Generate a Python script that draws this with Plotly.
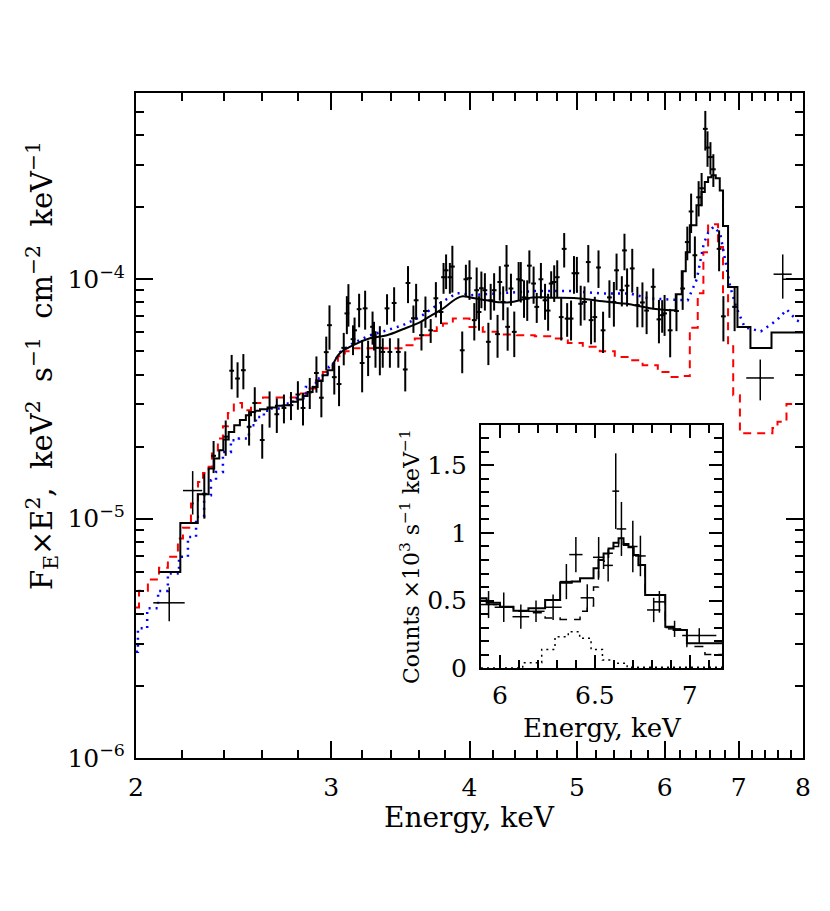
import plotly.graph_objects as go

# ---------------- main spectrum: data points ----------------
energy = [2.305, 2.35, 2.41, 2.44, 2.47, 2.50, 2.53, 2.56, 2.60, 2.64, 2.68, 2.72, 2.76, 2.80, 2.83,
          2.87, 2.91, 2.94, 2.97, 2.99, 3.02, 3.05, 3.08, 3.10, 3.11, 3.14, 3.15, 3.18, 3.20, 3.22,
          3.24, 3.27, 3.28, 3.29, 3.32, 3.34, 3.37, 3.39, 3.42, 3.45, 3.50, 3.52, 3.56, 3.58, 3.62,
          3.65, 3.69, 3.73, 3.77, 3.79, 3.81, 3.84, 3.86, 3.94, 3.97, 4.00, 4.04, 4.06, 4.08, 4.10,
          4.13, 4.16, 4.18, 4.21, 4.24, 4.26, 4.29, 4.32, 4.33, 4.36, 4.39, 4.43, 4.45, 4.48, 4.51,
          4.53, 4.57, 4.60, 4.64, 4.68, 4.71, 4.74, 4.77, 4.80, 4.84, 4.87, 4.90, 4.94, 4.97, 5.00,
          5.04, 5.08, 5.12, 5.15, 5.19, 5.23, 5.28, 5.35, 5.40, 5.43, 5.49, 5.52, 5.55, 5.61, 5.67,
          5.73, 5.78, 5.86, 5.93, 5.97, 6.00, 6.07, 6.15, 6.23, 6.29, 6.34, 6.39, 6.44, 6.48, 6.53,
          6.56, 6.60, 6.64, 6.72, 6.78, 6.94]
flux = [1.27e-5, 1.83e-5, 2.2e-5, 4.15e-5, 3.85e-5, 4.17e-5, 2.42e-5, 3.04e-5, 2.13e-5, 2.9e-5,
        2.73e-5, 2.9e-5, 2.98e-5, 3.3e-5, 2.9e-5, 3.37e-5, 4.06e-5, 3.2e-5, 4.96e-5, 6.43e-5,
        3.9e-5, 3.65e-5, 5.17e-5, 7.2e-5, 7.94e-5, 5.62e-5, 6.12e-5, 7.5e-5, 4.47e-5, 7.56e-5,
        4.74e-5, 6.33e-5, 5.84e-5, 5.17e-5, 5.17e-5, 4.97e-5, 7.56e-5, 4.97e-5, 7.96e-5, 4.97e-5,
        4.2e-5, 9.65e-5, 6.87e-5, 8.17e-5, 5.84e-5, 7.37e-5, 6.12e-5, 8.33e-5, 7.3e-5, 1.02e-4,
        1.09e-4, 1.02e-4, 1.13e-4, 5.05e-5, 1.0e-4, 1.01e-4, 6.75e-5, 9.0e-5, 7.3e-5, 9.17e-5,
        9.0e-5, 5.48e-5, 8.17e-5, 9.0e-5, 5.9e-5, 9.74e-5, 8.04e-5, 1.14e-4, 6.33e-5, 9.15e-5,
        6.03e-5, 1.0e-4, 9.9e-5, 8.4e-5, 8.3e-5, 1.14e-4, 9.6e-5, 7.67e-5, 1.0e-4, 8.17e-5,
        7.4e-5, 9.6e-5, 9.74e-5, 1.02e-4, 6.95e-5, 1.34e-4, 6.85e-5, 6.85e-5, 1.06e-4, 1.06e-4,
        7.9e-5, 8.04e-5, 1.18e-4, 6.75e-5, 6.95e-5, 1.12e-4, 6.12e-5, 8.4e-5, 8.04e-5, 1.09e-4,
        9.0e-5, 1.32e-4, 9.4e-5, 1.11e-4, 7.8e-5, 8.0e-5, 7.4e-5, 9.3e-5, 6.8e-5, 7.08e-5,
        7.2e-5, 6.12e-5, 7.37e-5, 9.15e-5, 1.43e-4, 1.92e-4, 1.26e-4, 2.2e-4, 2.4e-4, 4.25e-4,
        3.55e-4, 3.24e-4, 2.88e-4, 1.34e-4, 7.0e-5, 7.67e-5]
flux_err = [0.27e-5, 0.28e-5, 0.37e-5, 0.68e-5, 0.65e-5, 0.7e-5, 0.4e-5, 0.5e-5, 0.35e-5, 0.5e-5,
            0.45e-5, 0.4e-5, 0.4e-5, 0.45e-5, 0.45e-5, 0.5e-5, 0.7e-5, 0.55e-5, 0.8e-5, 1.35e-5,
            0.6e-5, 0.7e-5, 0.8e-5, 1.3e-5, 1.6e-5, 0.8e-5, 0.8e-5, 1.2e-5, 1.1e-5, 1.4e-5,
            0.8e-5, 1.0e-5, 0.8e-5, 0.9e-5, 1.2e-5, 0.7e-5, 1.1e-5, 0.7e-5, 1.3e-5, 0.7e-5,
            0.8e-5, 1.7e-5, 0.9e-5, 1.4e-5, 0.8e-5, 1.1e-5, 0.7e-5, 1.4e-5, 0.8e-5, 1.5e-5,
            1.8e-5, 1.5e-5, 2.5e-5, 1.0e-5, 1.5e-5, 1.9e-5, 1.2e-5, 2.2e-5, 1.2e-5, 1.6e-5,
            1.6e-5, 1.1e-5, 1.4e-5, 1.6e-5, 1.2e-5, 1.6e-5, 1.3e-5, 2.5e-5, 1.3e-5, 1.4e-5,
            1.3e-5, 1.8e-5, 1.9e-5, 1.5e-5, 1.6e-5, 1.8e-5, 1.7e-5, 1.1e-5, 1.7e-5, 1.4e-5,
            1.3e-5, 1.2e-5, 1.7e-5, 1.8e-5, 1.4e-5, 2.2e-5, 1.1e-5, 1.3e-5, 1.9e-5, 1.8e-5,
            1.5e-5, 1.3e-5, 2.1e-5, 1.4e-5, 1.5e-5, 2.0e-5, 1.2e-5, 1.5e-5, 1.7e-5, 1.9e-5,
            1.3e-5, 2.3e-5, 1.7e-5, 2.3e-5, 1.5e-5, 1.7e-5, 1.5e-5, 1.8e-5, 1.4e-5, 1.1e-5,
            1.4e-5, 1.4e-5, 1.3e-5, 1.7e-5, 2.3e-5, 3.6e-5, 2.5e-5, 3.7e-5, 3.8e-5, 8.0e-5,
            6.0e-5, 5.0e-5, 4.5e-5, 2.6e-5, 1.5e-5, 1.6e-5]

# wide-bin points
wide_energy = [2.143, 2.25, 7.32, 7.67, 8.05]
wide_energy_err = [0.07, 0.045, 0.21, 0.145, 0.38]
wide_flux = [4.45e-6, 1.31e-5, 3.87e-5, 1.05e-4, 1.0e-4]
wide_flux_err = [0.72e-6, 0.27e-5, 0.75e-5, 2.2e-5, 2.0e-5]

# ---------------- main spectrum: models ----------------
# total model (solid black)
black_lo_e = [2.097, 2.193, 2.274, 2.326, 2.353, 2.378, 2.398, 2.425, 2.453, 2.482, 2.513, 2.54,
              2.562, 2.588, 2.629, 2.675, 2.722, 2.76, 2.798, 2.828, 2.857, 2.887, 2.917, 2.948,
              2.978, 3.01]
black_lo_f = [5.99e-6, 9.6e-6, 1.265e-5, 1.62e-5, 1.784e-5, 1.93e-5, 2.14e-5, 2.30e-5, 2.457e-5,
              2.58e-5, 2.705e-5, 2.79e-5, 2.82e-5, 2.865e-5, 2.91e-5, 2.96e-5, 2.98e-5, 3.075e-5,
              3.146e-5, 3.256e-5, 3.38e-5, 3.55e-5, 3.76e-5, 3.97e-5, 4.17e-5, 4.375e-5]
black_mid_e = [3.01, 3.055, 3.139, 3.252, 3.369, 3.482, 3.607, 3.683, 3.737, 3.80, 3.84, 3.896,
               3.945, 4.0, 4.086, 4.145, 4.26, 4.349, 4.441, 4.506, 4.629, 4.756, 5.0, 5.277,
               5.466, 5.581, 5.818, 6.065]
black_mid_f = [4.375e-5, 4.91e-5, 5.30e-5, 5.67e-5, 5.835e-5, 6.18e-5, 6.61e-5, 7.0e-5, 7.28e-5,
               7.64e-5, 7.94e-5, 8.33e-5, 8.49e-5, 8.41e-5, 8.25e-5, 8.17e-5, 8.01e-5, 8.01e-5,
               8.17e-5, 8.33e-5, 8.41e-5, 8.37e-5, 8.33e-5, 8.09e-5, 7.94e-5, 7.86e-5, 7.57e-5,
               7.42e-5]
black_hi_e = [6.065, 6.141, 6.218, 6.27, 6.323, 6.411, 6.478, 6.523, 6.568, 6.614, 6.673, 6.729,
              6.775, 6.846, 6.981, 7.172, 7.493, 8.0]
black_hi_f = [7.42e-5, 8.66e-5, 1.08e-4, 1.296e-4, 1.68e-4, 2.04e-4, 2.315e-4, 2.55e-4, 2.67e-4,
              2.72e-4, 2.64e-4, 2.35e-4, 1.67e-4, 9.29e-5, 6.32e-5, 5.16e-5, 5.99e-5, 5.99e-5]

# red dashed model
red_e = [2.0, 2.0125, 2.050, 2.098, 2.137, 2.182, 2.205, 2.242, 2.275, 2.299, 2.326, 2.342, 2.371,
         2.396, 2.421, 2.451, 2.493, 2.54, 2.604, 2.806, 2.847, 2.907, 2.949, 3.011, 3.043, 3.087,
         3.12, 3.497, 3.57, 3.63, 3.683, 3.737, 3.785, 3.864, 4.0, 4.112, 4.242, 4.413, 4.581,
         4.746, 4.907, 5.062, 5.244, 5.41, 5.581, 5.732, 5.916, 6.065, 6.231, 6.323, 6.428, 6.504,
         6.568, 6.705, 6.775, 6.846, 6.92, 7.017, 7.508, 7.587, 7.73, 8.0]
red_f = [4.25e-6, 5.0e-6, 5.57e-6, 6.23e-6, 6.93e-6, 8.27e-6, 9.15e-6, 1.157e-5, 1.424e-5, 1.55e-5,
         1.646e-5, 1.872e-5, 2.16e-5, 2.43e-5, 2.765e-5, 3.04e-5, 2.84e-5, 3.04e-5, 3.21e-5,
         3.33e-5, 3.50e-5, 3.79e-5, 4.10e-5, 4.45e-5, 4.77e-5, 5.0e-5, 5.15e-5, 5.30e-5, 5.65e-5,
         5.835e-5, 6.08e-5, 6.30e-5, 6.53e-5, 6.85e-5, 6.32e-5, 6.03e-5, 5.875e-5, 5.84e-5,
         5.78e-5, 5.65e-5, 5.42e-5, 5.22e-5, 5.0e-5, 4.74e-5, 4.59e-5, 4.375e-5, 4.10e-5, 3.91e-5,
         3.94e-5, 6.28e-5, 8.74e-5, 1.296e-4, 1.696e-4, 1.364e-4, 8.72e-5, 5.25e-5, 3.28e-5,
         2.275e-5, 2.39e-5, 2.54e-5, 3.01e-5, 3.01e-5]

# blue dotted model
blue_lo_e = [2.0, 2.008, 2.047, 2.094, 2.137, 2.187, 2.228, 2.266, 2.304, 2.337, 2.362, 2.396,
             2.436, 2.477, 2.529, 2.566, 2.609, 2.637, 2.714, 2.771, 2.847, 2.907, 2.949, 2.986,
             3.01]
blue_lo_f = [2.78e-6, 3.48e-6, 4.22e-6, 4.99e-6, 5.90e-6, 6.93e-6, 8.39e-6, 1.018e-5, 1.253e-5,
             1.448e-5, 1.568e-5, 1.90e-5, 2.127e-5, 2.16e-5, 2.457e-5, 2.66e-5, 2.82e-5, 2.885e-5,
             3.03e-5, 3.18e-5, 3.55e-5, 3.85e-5, 4.04e-5, 4.30e-5, 4.4e-5]
blue_hi_e = [3.01, 3.055, 3.139, 3.252, 3.369, 3.482, 3.607, 3.737, 3.84, 3.896, 3.945, 4.0, 4.29,
             4.6, 4.92, 5.277, 5.581, 5.818, 6.065, 6.231, 6.296, 6.415, 6.509, 6.570, 6.646,
             6.736, 6.806, 6.877, 6.964, 7.088, 7.328, 7.576, 7.735, 7.897, 8.0]
blue_hi_f = [4.4e-5, 4.955e-5, 5.40e-5, 5.835e-5, 6.12e-5, 6.43e-5, 6.94e-5, 7.79e-5, 8.41e-5,
             8.74e-5, 8.76e-5, 8.57e-5, 8.76e-5, 8.94e-5, 8.94e-5, 8.72e-5, 8.72e-5, 8.31e-5,
             8.23e-5, 8.17e-5, 8.17e-5, 1.0e-4, 1.41e-4, 1.57e-4, 1.66e-4, 1.55e-4, 1.20e-4,
             9.3e-5, 7.64e-5, 6.3e-5, 6.06e-5, 6.74e-5, 7.47e-5, 6.74e-5, 6.55e-5]

# ---------------- inset: Fe line region ----------------
inset_e = [5.94, 6.02, 6.11, 6.19, 6.28, 6.35, 6.40, 6.46, 6.52, 6.57, 6.61, 6.64, 6.70, 6.74,
           6.81, 6.84, 6.92, 7.05]
inset_e_err = [0.045, 0.048, 0.044, 0.045, 0.045, 0.035, 0.035, 0.035, 0.03, 0.025, 0.018, 0.025,
               0.025, 0.028, 0.035, 0.03, 0.035, 0.09]
inset_c = [0.47, 0.45, 0.38, 0.42, 0.45, 0.64, 0.84, 0.52, 0.82, 0.76, 1.31, 1.03, 0.90, 0.83,
           0.43, 0.49, 0.29, 0.24]
inset_c_err = [0.10, 0.11, 0.09, 0.08, 0.095, 0.13, 0.13, 0.10, 0.15, 0.12, 0.28, 0.20, 0.19,
               0.15, 0.09, 0.08, 0.06, 0.055]

inset_tot_e = [5.9, 5.93, 6.0, 6.071, 6.15, 6.238, 6.317, 6.378, 6.422, 6.493, 6.519, 6.546,
               6.572, 6.598, 6.625, 6.651, 6.677, 6.704, 6.730, 6.765, 6.871, 6.915, 6.985, 7.17]
inset_tot_c = [0.516, 0.484, 0.454, 0.425, 0.442, 0.504, 0.632, 0.640, 0.664, 0.738, 0.800,
               0.849, 0.886, 0.928, 0.961, 0.919, 0.894, 0.837, 0.763, 0.541, 0.306, 0.281,
               0.183, 0.183]
inset_67_e = [5.9, 5.93, 6.0, 6.071, 6.15, 6.238, 6.317, 6.378, 6.422, 6.46, 6.493, 6.519, 6.546,
              6.572, 6.598, 6.625, 6.651, 6.677, 6.704, 6.730, 6.765, 6.871, 6.915, 6.985, 7.08,
              7.17]
inset_67_c = [0.50, 0.47, 0.45, 0.42, 0.41, 0.37, 0.36, 0.36, 0.42, 0.46, 0.60, 0.73, 0.79,
              0.85, 0.90, 0.94, 0.91, 0.89, 0.83, 0.76, 0.54, 0.30, 0.28, 0.16, 0.10, 0.10]
inset_64_e = [5.9, 6.12, 6.22, 6.29, 6.36, 6.42, 6.48, 6.54, 6.6, 6.67, 7.17]
inset_64_c = [0.0, 0.039, 0.138, 0.232, 0.269, 0.22, 0.138, 0.059, 0.035, 0.005, 0.005]

# tick labels
main_x_ticks = [2, 3, 4, 5, 6, 7, 8]
main_x_minor = [2.2, 2.4, 2.6, 2.8, 3.2, 3.4, 3.6, 3.8, 4.2, 4.4, 4.6, 4.8, 5.2, 5.4, 5.6, 5.8,
                6.2, 6.4, 6.6, 6.8, 7.2, 7.4, 7.6, 7.8]
main_y_ticks = [1e-6, 1e-5, 1e-4]
main_y_text = ["10<sup>−6</sup>", "10<sup>−5</sup>", "10<sup>−4</sup>"]
main_y_minor = [2e-6, 3e-6, 4e-6, 5e-6, 6e-6, 7e-6, 8e-6, 9e-6,
                2e-5, 3e-5, 4e-5, 5e-5, 6e-5, 7e-5, 8e-5, 9e-5,
                2e-4, 3e-4, 4e-4, 5e-4]
inset_x_ticks = [6, 6.5, 7]
inset_x_minor = [6.1, 6.2, 6.3, 6.4, 6.6, 6.7, 6.8, 6.9, 7.1]
inset_y_ticks = [0, 0.5, 1, 1.5]
inset_y_minor = [0.1, 0.2, 0.3, 0.4, 0.6, 0.7, 0.8, 0.9, 1.1, 1.2, 1.3, 1.4, 1.6, 1.7]

FONT = "DejaVu Serif"
SP = "\u00a0"

fig = go.Figure()

fig.add_trace(go.Scatter(x=red_e, y=red_f, mode="lines",
                         line=dict(color="#ff0000", width=2, dash="8px,6px", shape="hv")))
fig.add_trace(go.Scatter(x=blue_lo_e, y=blue_lo_f, mode="lines",
                         line=dict(color="#0000ff", width=2.5, dash="2px,5px", shape="hv")))
fig.add_trace(go.Scatter(x=blue_hi_e, y=blue_hi_f, mode="lines",
                         line=dict(color="#0000ff", width=2.5, dash="2px,5px")))
fig.add_trace(go.Scatter(x=black_lo_e, y=black_lo_f, mode="lines",
                         line=dict(color="black", width=2, shape="hv")))
fig.add_trace(go.Scatter(x=black_mid_e, y=black_mid_f, mode="lines",
                         line=dict(color="black", width=2, shape="spline")))
fig.add_trace(go.Scatter(x=black_hi_e, y=black_hi_f, mode="lines",
                         line=dict(color="black", width=2, shape="hv")))

fig.add_trace(go.Scatter(
    x=energy, y=flux, mode="markers", marker=dict(color="black", size=2),
    error_y=dict(type="data", array=flux_err, color="black", thickness=2, width=0),
    error_x=dict(type="percent", value=0.5, color="black", thickness=2, width=0)))
fig.add_trace(go.Scatter(
    x=wide_energy, y=wide_flux, mode="markers", marker=dict(color="black", size=2),
    error_y=dict(type="data", array=wide_flux_err, color="black", thickness=1.5, width=0),
    error_x=dict(type="data", array=wide_energy_err, color="black", thickness=1.5, width=0)))

# inset traces
fig.add_trace(go.Scatter(x=inset_64_e, y=inset_64_c, mode="lines", xaxis="x2", yaxis="y2",
                         line=dict(color="black", width=1.5, dash="2px,4px", shape="hv")))
fig.add_trace(go.Scatter(x=inset_67_e, y=inset_67_c, mode="lines", xaxis="x2", yaxis="y2",
                         line=dict(color="black", width=1.5, dash="9px,7px", shape="hv")))
fig.add_trace(go.Scatter(x=inset_tot_e, y=inset_tot_c, mode="lines", xaxis="x2", yaxis="y2",
                         line=dict(color="black", width=2, shape="hv")))
fig.add_trace(go.Scatter(
    x=inset_e, y=inset_c, mode="markers", xaxis="x2", yaxis="y2",
    marker=dict(color="black", size=2),
    error_y=dict(type="data", array=inset_c_err, color="black", thickness=1.5, width=0),
    error_x=dict(type="data", array=inset_e_err, color="black", thickness=1.5, width=0)))

axis_common = dict(showline=True, linecolor="black", linewidth=2, mirror="allticks",
                   ticks="inside", tickcolor="black", tickwidth=1.5, showgrid=False,
                   zeroline=False, tickfont=dict(family=FONT, size=25, color="black"))

def label(text, x, y, size, angle=0):
    return dict(text=text, x=x, y=y, xref="paper", yref="paper", showarrow=False,
                xanchor="center", yanchor="middle", textangle=angle,
                font=dict(family=FONT, size=size, color="black"))

ytitle = ("F<sub>E</sub>×E<sup>2</sup>," + SP * 2 + "keV<sup>2</sup>" + SP * 2 + "s<sup>−1</sup>"
          + SP * 2 + "cm<sup>−2</sup>" + SP * 2 + "keV<sup>−1</sup>")

fig.update_layout(
    width=830, height=911,
    margin=dict(l=128, r=35, t=85, b=161),
    paper_bgcolor="white", plot_bgcolor="white",
    showlegend=False,
    font=dict(family=FONT, color="black"),
    xaxis=dict(type="log", range=[0.30103, 0.90309], tickmode="array",
               tickvals=main_x_ticks, ticktext=[str(v) for v in main_x_ticks],
               ticklen=17, ticklabelstandoff=6,
               minor=dict(tickvals=main_x_minor, ticks="inside", ticklen=8,
                          tickcolor="black", tickwidth=1.5),
               **axis_common),
    yaxis=dict(type="log", range=[-6, -3.2218], tickmode="array",
               tickvals=main_y_ticks, ticktext=main_y_text,
               ticklen=17, ticklabelstandoff=4,
               minor=dict(tickvals=main_y_minor, ticks="inside", ticklen=8,
                          tickcolor="black", tickwidth=1.5),
               **axis_common),
    xaxis2=dict(domain=[0.5172, 0.8786], anchor="y2", range=[5.9, 7.17],
                tickmode="array", tickvals=inset_x_ticks, ticktext=["6", "6.5", "7"],
                ticklen=13, ticklabelstandoff=4,
                minor=dict(tickvals=inset_x_minor, ticks="inside", ticklen=8,
                           tickcolor="black", tickwidth=1.5),
                **axis_common),
    yaxis2=dict(domain=[0.1353, 0.5008], anchor="x2", range=[0, 1.8],
                tickmode="array", tickvals=inset_y_ticks, ticktext=["0", "0.5", "1", "1.5"],
                ticklen=13, ticklabelstandoff=7,
                minor=dict(tickvals=inset_y_minor, ticks="inside", ticklen=8,
                           tickcolor="black", tickwidth=1.5),
                **axis_common),
    annotations=[
        label("Energy, keV", 0.5007, -0.0902, 28),
        label(ytitle, -0.141, 0.591, 29, -90),
        label("Energy, keV", 0.700, 0.0451, 26),
        label("Counts ×10<sup>3</sup> s<sup>−1</sup> keV<sup>−1</sup>", 0.4108, 0.3023, 22, -90),
    ],
)

fig.write_html("out.html")
